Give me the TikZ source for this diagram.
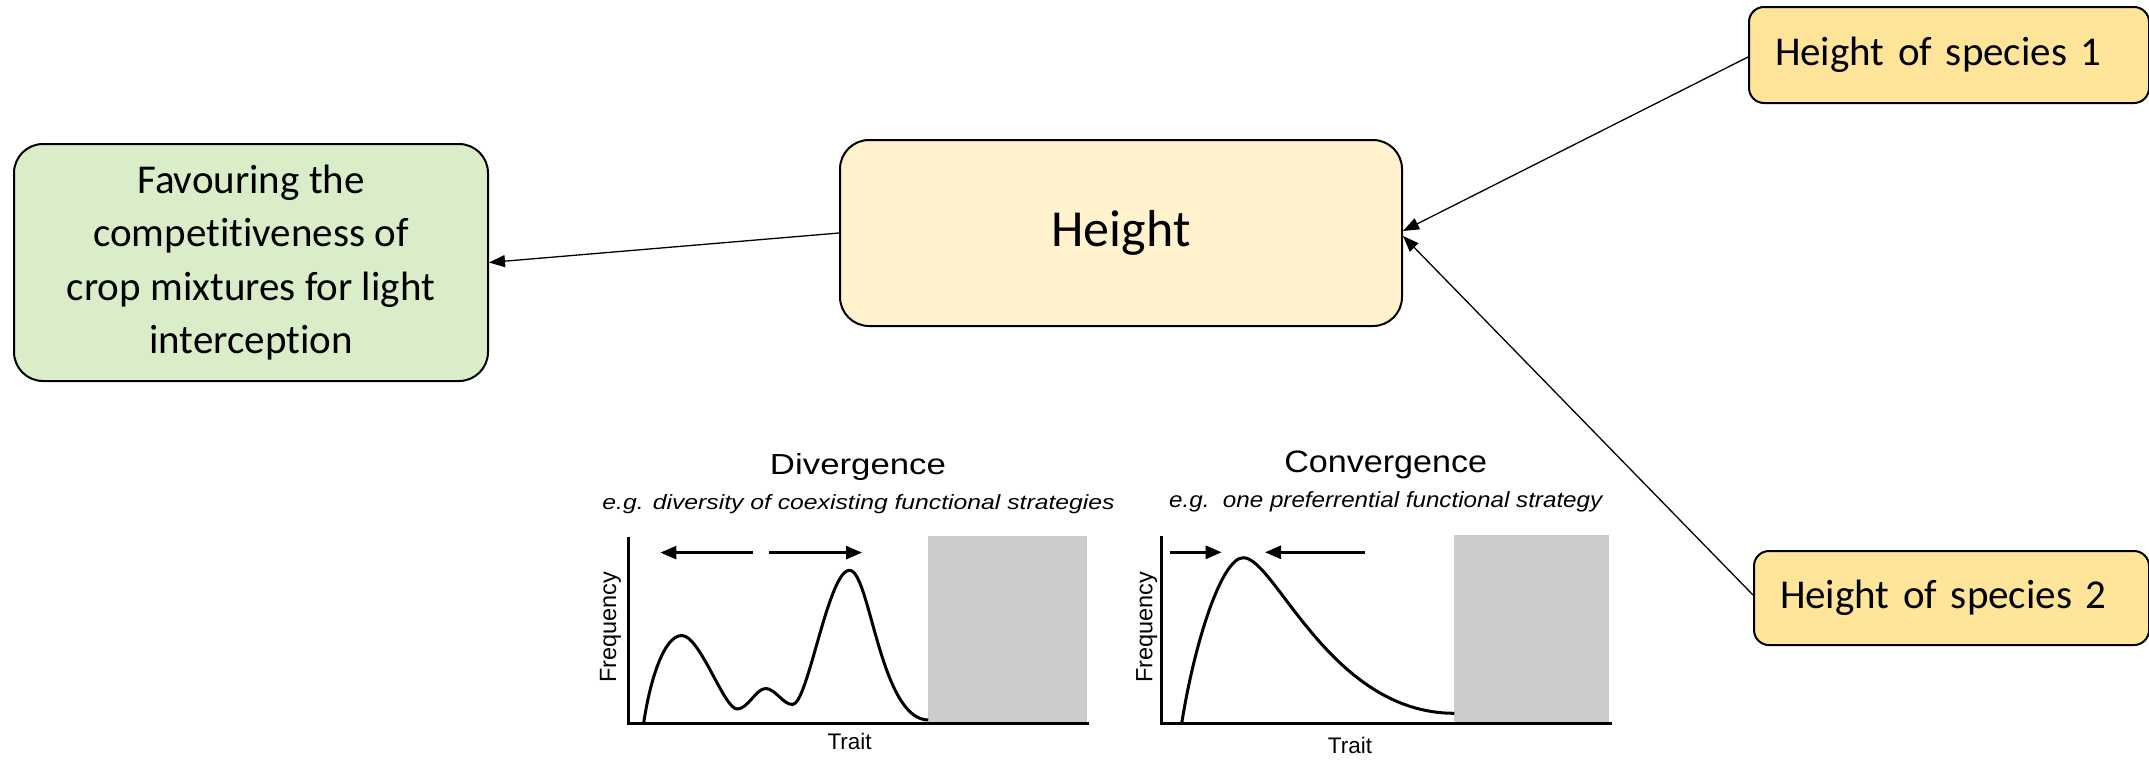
\documentclass[tikz,border=0pt]{standalone}
\usepackage{fontspec}
\setmainfont{Carlito}[Ligatures={NoCommon,NoRare,NoContextual}]
\newfontfamily\arialf{Liberation Sans}
\newfontfamily\arialdiv[FakeStretch=1.2]{Liberation Sans}
\newfontfamily\arialconv[FakeStretch=1.1]{Liberation Sans}
\usetikzlibrary{arrows.meta}
\definecolor{greenfill}{RGB}{218,237,201}
\definecolor{heightfill}{RGB}{255,242,204}
\definecolor{speciesfill}{RGB}{255,229,153}
\definecolor{panelgray}{RGB}{204,204,204}
\tikzset{
  box/.style={draw=black, line width=2pt, rounded corners=29pt, inner sep=0pt},
  spbox/.style={draw=black, line width=2pt, rounded corners=15pt, fill=speciesfill,
    inner xsep=26pt, inner ysep=0pt, align=left, font=\fontsize{41}{50}\selectfont},
  link/.style={line width=1.3pt, -{Triangle[length=16pt,width=12pt]}},
  axis/.style={line width=3pt},
  curve/.style={line width=3pt},
  chartarrow/.style={line width=2.7pt, -{Triangle[length=16pt,width=13pt]}},
  axlabel/.style={font=\arialf\fontsize{22.5}{26}\selectfont, inner sep=0pt},
}
\begin{document}
\begin{tikzpicture}[x=1pt,y=-1pt]
\useasboundingbox (0,0) rectangle (2149,764);

% main boxes
\node[box, fill=greenfill, minimum width=474pt, minimum height=237pt, align=center,
  font=\fontsize{41}{53.5}\selectfont] (effect) at (251,262.5)
  {Favouring the\\competitiveness of\\crop mixtures for light\\interception};
\node[box, fill=heightfill, minimum width=562pt, minimum height=186pt,
  font=\fontsize{52}{60}\selectfont] (height) at (1121,233) {Height};
\node[spbox, text width=348pt, minimum height=96pt, anchor=west] (sp1) at (1748,55)
  {Height of species 1};
\node[spbox, text width=343pt, minimum height=94pt, anchor=west] (sp2) at (1753,598)
  {Height of species 2};

% connectors
\draw[link] (height.west) -- (effect.east);
\draw[link] ([yshift=-2pt]sp1.west) -- ([yshift=2pt]height.east);
\draw[link] ([yshift=3pt]sp2.west) -- ([yshift=-3pt]height.east);

% ---------- Divergence panel ----------
\node[font=\arialdiv\fontsize{29}{34}\selectfont, inner sep=0pt] (divt) at (858,467) {Divergence};
\node[font=\arialdiv\itshape\fontsize{20.6}{24}\selectfont, inner sep=0pt] (divs) at (858.5,504)
  {e.g. diversity of coexisting functional strategies};
\fill[panelgray] (928,536) rectangle (1087,723.5);
\draw[axis] (628,536.5) -- (628,723.5) -- (1089,723.5);
\draw[curve] (643.6,723.5)
  .. controls (650,680) and (664,635.5) .. (681.8,635.5)
  .. controls (700,635.5) and (724,709) .. (737.1,709)
  .. controls (748,709) and (756,688.5) .. (765.7,688.5)
  .. controls (775,688.5) and (783,704.5) .. (792.5,704.5)
  .. controls (808,704.5) and (828,570.3) .. (849.6,570.3)
  .. controls (870,570.3) and (880,719.5) .. (928.2,720);
\coordinate (dl1) at (752.5,552.6);
\coordinate (dl2) at (660.4,552.6);
\coordinate (dr1) at (769.3,552.6);
\coordinate (dr2) at (862,552.6);
\draw[chartarrow] (dl1) -- (dl2);
\draw[chartarrow] (dr1) -- (dr2);
\node[axlabel, rotate=90, font=\arialf\fontsize{23.5}{26}\selectfont] (divf) at (610.4,627) {Frequency};
\node[axlabel, font=\arialf\fontsize{22.5}{26}\selectfont] (divx) at (849.6,741) {Trait};

% ---------- Convergence panel ----------
\node[font=\arialconv\fontsize{31}{36}\selectfont, inner sep=0pt] (cont) at (1385.7,465) {Convergence};
\node[font=\arialconv\itshape\fontsize{22}{26}\selectfont, inner sep=0pt] (cons) at (1385.7,501.7)
  {e.g.\ \ one preferrential functional strategy};
\fill[panelgray] (1454.3,535) rectangle (1609.3,723.3);
\draw[axis] (1161.7,536) -- (1161.7,723.3) -- (1611.7,723.3);
\draw[curve] (1181.7,723.3)
  .. controls (1195,640) and (1222,557.7) .. (1243.3,557.7)
  .. controls (1275,557.7) and (1330,713.3) .. (1454.3,713.3);
\coordinate (cr1) at (1170,552.3);
\coordinate (cr2) at (1221.7,552.3);
\coordinate (cl1) at (1365,552.3);
\coordinate (cl2) at (1265,552.3);
\draw[chartarrow] (cr1) -- (cr2);
\draw[chartarrow] (cl1) -- (cl2);
\node[axlabel, rotate=90, font=\arialf\fontsize{23.5}{26}\selectfont] (conf) at (1146.7,627) {Frequency};
\node[axlabel, font=\arialf\fontsize{22.5}{26}\selectfont] (conx) at (1350,745) {Trait};
\end{tikzpicture}
\end{document}
